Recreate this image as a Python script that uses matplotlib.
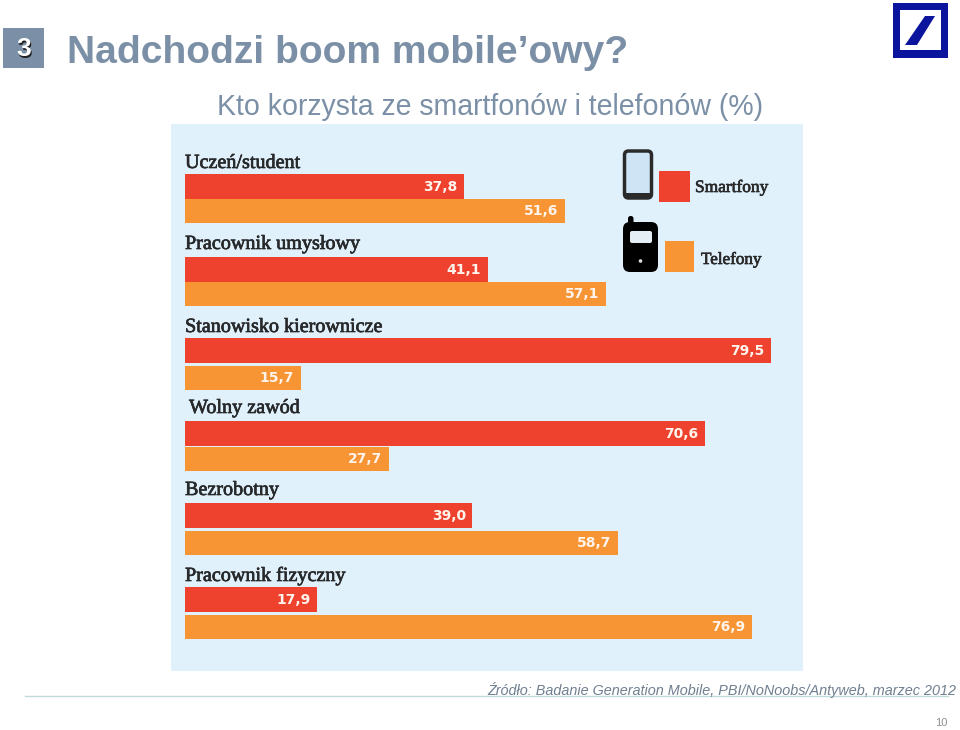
import matplotlib
matplotlib.use("Agg")
import matplotlib.pyplot as plt
import matplotlib.patheffects as pe
from matplotlib.patches import Rectangle, FancyBboxPatch, Polygon, Circle

categories = ["Uczeń/student", "Pracownik umysłowy", "Stanowisko kierownicze",
              "Wolny zawód", "Bezrobotny", "Pracownik fizyczny"]
smartfony = [37.8, 41.1, 79.5, 70.6, 39.0, 17.9]
telefony = [51.6, 57.1, 15.7, 27.7, 58.7, 76.9]

RED = "#EE422F"
ORANGE = "#F79433"
PANEL = "#E1F1FC"
SLATE = "#7B90A6"
NAVY = "#0A149C"

W, H = 960, 730
X0 = 185          # pixel of value 0
PX_PER_UNIT = 7.37
BAR_H = 24.5
# top of the red bar and the gap to the orange one, per group (pixels)
group_tops = [174, 257, 338, 421, 503, 587]
group_gaps = [0, 0, 3, 1, 3, 3]
label_x = [185, 185, 185, 189, 185, 185]
label_base = [168, 249, 332, 413, 495, 581]
# thin outline so the regular serif reads as heavy as the scanned labels
heavier = [pe.withStroke(linewidth=0.5, foreground="#26282A")]


def fmt(v):
    return f"{v:.1f}".replace(".", ",")


fig = plt.figure(figsize=(W / 100, H / 100), dpi=100, facecolor="white")

# page layer in pixel coordinates
page = fig.add_axes([0, 0, 1, 1])
page.set_xlim(0, W)
page.set_ylim(H, 0)
page.axis("off")

# number box and headings
page.add_patch(Rectangle((3, 28), 41, 40, fc=SLATE, ec="none"))
page.text(25, 57.5, "3", color="#222222", fontsize=19, fontweight="bold",
          family="Liberation Sans", ha="center", va="baseline")
page.text(24, 56.5, "3", color="white", fontsize=19, fontweight="bold",
          family="Liberation Sans", ha="center", va="baseline")
page.text(67, 63, "Nadchodzi boom mobile’owy?", color=SLATE, fontsize=28.1,
          fontweight="bold", family="Liberation Sans", va="baseline")
page.text(217, 115, "Kto korzysta ze smartfonów i telefonów (%)", color=SLATE,
          fontsize=20.55, family="Liberation Sans", va="baseline")

# logo
page.add_patch(Rectangle((892.5, 3), 55, 55, fc=NAVY, ec="none"))
page.add_patch(Rectangle((899.5, 10), 41, 40, fc="white", ec="none"))
page.add_patch(Polygon([(905, 45), (917, 45), (935, 16), (925, 16)], fc=NAVY, ec="none"))

# footer
page.plot([25, 948], [696, 696], color="#BFDAD8", lw=1)
page.text(956, 695, "Źródło: Badanie Generation Mobile, PBI/NoNoobs/Antyweb, marzec 2012",
          color="#6F7F90", fontsize=10.4, style="italic", family="Liberation Sans",
          ha="right", va="baseline")
page.text(947, 726, "10", color="#909090", fontsize=8, family="Liberation Sans",
          ha="right", va="baseline")

# chart panel, x axis in percent, y axis in pixels
left, right, top, bottom = 171, 803, 124, 671
ax = fig.add_axes([left / W, 1 - bottom / H, (right - left) / W, (bottom - top) / H])
ax.set_xlim((left - X0) / PX_PER_UNIT, (right - X0) / PX_PER_UNIT)
ax.set_ylim(bottom, top)
ax.set_facecolor(PANEL)
for s in ax.spines.values():
    s.set_visible(False)
ax.set_xticks([])
ax.set_yticks([])

for i, cat in enumerate(categories):
    y_red = group_tops[i]
    y_orange = y_red + BAR_H + group_gaps[i]
    ax.barh(y_red, smartfony[i], height=BAR_H, align="edge", color=RED)
    ax.barh(y_orange, telefony[i], height=BAR_H, align="edge", color=ORANGE)
    ax.text(smartfony[i] - 0.9, y_red + BAR_H / 2 + 0.5, fmt(smartfony[i]), color="#FFF4EC",
            fontsize=10, fontweight="bold", family="DejaVu Sans", ha="right", va="center")
    ax.text(telefony[i] - 0.9, y_orange + BAR_H / 2 + 0.5, fmt(telefony[i]), color="#FFF4EC",
            fontsize=10, fontweight="bold", family="DejaVu Sans", ha="right", va="center")
    ax.text((label_x[i] - X0) / PX_PER_UNIT, label_base[i], cat, color="#26282A", fontsize=14.5,
            family="Liberation Serif", va="baseline", path_effects=heavier)

# legend squares
ax.add_patch(Rectangle(((659 - X0) / PX_PER_UNIT, 171), 31 / PX_PER_UNIT, 31, fc=RED, ec="none"))
ax.add_patch(Rectangle(((665 - X0) / PX_PER_UNIT, 241), 29 / PX_PER_UNIT, 31, fc=ORANGE, ec="none"))

# legend labels and phone icons, drawn in pixels on top of the panel
overlay = fig.add_axes([0, 0, 1, 1], facecolor="none")
overlay.set_xlim(0, W)
overlay.set_ylim(H, 0)
overlay.axis("off")
overlay.text(695, 192, "Smartfony", color="#2A2A2A", fontsize=12.5,
             family="Liberation Serif", va="baseline", path_effects=heavier)
overlay.text(701, 264, "Telefony", color="#2A2A2A", fontsize=12.3,
             family="Liberation Serif", va="baseline", path_effects=heavier)

overlay.add_patch(FancyBboxPatch((624.5, 151), 27, 47, boxstyle="round,pad=0,rounding_size=4",
                                 fc="#CFE4F4", ec="#2A2A2A", lw=2.5))
overlay.add_patch(Rectangle((625, 193), 26, 5, fc="#2A2A2A", ec="none"))
overlay.add_patch(FancyBboxPatch((623, 222), 35, 50, boxstyle="round,pad=0,rounding_size=7",
                                 fc="black", ec="none"))
overlay.add_patch(FancyBboxPatch((628, 216), 5.5, 12, boxstyle="round,pad=0,rounding_size=2.5",
                                 fc="black", ec="none"))
overlay.add_patch(FancyBboxPatch((630, 231), 22, 12, boxstyle="round,pad=0,rounding_size=2",
                                 fc="#E4EEF4", ec="none"))
overlay.add_patch(Circle((640.5, 261), 1.8, fc="#DDDDDD", ec="none"))

fig.savefig("out.png", dpi=100)
